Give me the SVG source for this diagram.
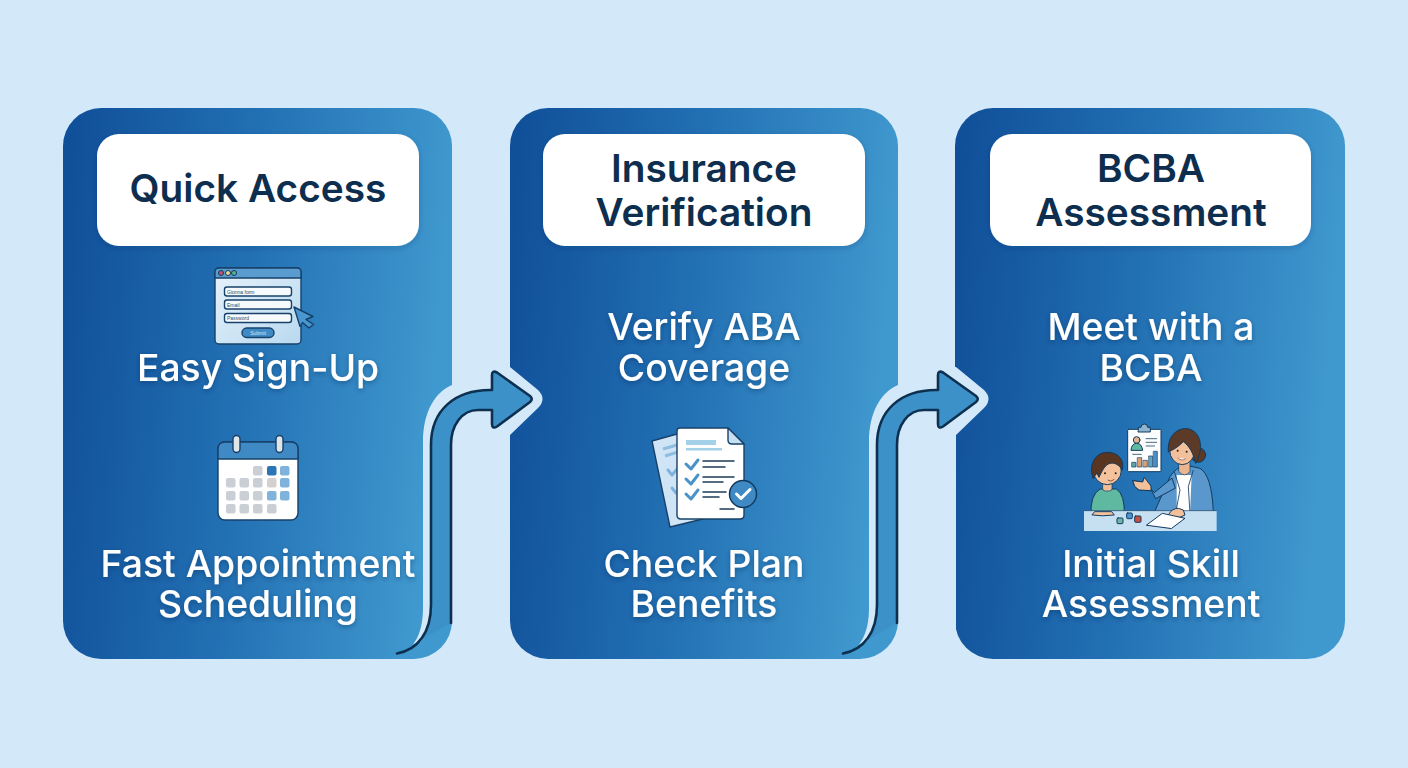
<svg xmlns="http://www.w3.org/2000/svg" xmlns:xlink="http://www.w3.org/1999/xlink" width="1408" height="768" viewBox="0 0 1408 768">
<defs>
<linearGradient id="cardG" x1="0" y1="0" x2="1" y2="0.12"><stop offset="0" stop-color="#0f4e98"/><stop offset="0.5" stop-color="#2270b3"/><stop offset="1" stop-color="#3f98ce"/></linearGradient>
<linearGradient id="formG" x1="0" y1="0" x2="1" y2="1"><stop offset="0" stop-color="#e6f2fb"/><stop offset="1" stop-color="#b9d9ef"/></linearGradient>
<filter id="ts" x="-10%" y="-30%" width="120%" height="170%"><feDropShadow dx="0" dy="2" stdDeviation="2.500" flood-color="#0a2f5c" flood-opacity="0.45"/></filter>
<filter id="bs" x="-10%" y="-10%" width="120%" height="130%"><feDropShadow dx="0" dy="2" stdDeviation="3" flood-color="#0a2f5c" flood-opacity="0.2"/></filter>
<g id="arrow">
<path class="halo" d="M398,653.500C415,650 423,632 423,608L423,442C423,412 435,392 452,385L452,367L510,367L538,390Q547,399 538,408L510,435L510,640L452,640L452,620L431,620C431,635 415,650 398,653.500Z"/>
<path fill="#3c91c9" d="M397,653.500C418,650 431,632 431,605L431,445C431,410 455,390 490,390L492,390L492,375Q492,370 497,372.500L530,396Q533.500,399 530,402L497,426.500Q492,429.500 492,424L492,410L478,410C462,410 451,425 451,445L451,623Z"/>
<path class="arrowline" d="M397,653.500C418,650 431,632 431,605L431,445C431,410 455,390 490,390L492,390L492,375Q492,370 497,372.500L530,396Q533.500,399 530,402L497,426.500Q492,429.500 492,424L492,410L478,410C462,410 451,425 451,445L451,623"/>
</g>
</defs>
<style>
.card{fill:url(#cardG)}
.label{fill:#fff;filter:url(#bs)}
.title{font-family:Inter,"Noto Sans","Liberation Sans",sans-serif;font-weight:600;font-size:38.800px;fill:#0d2e4e;text-anchor:middle}
.body{font-family:Inter,"Noto Sans","Liberation Sans",sans-serif;font-weight:500;font-size:37.300px;fill:#fff;text-anchor:middle;filter:url(#ts)}
.halo{fill:#d3e9f9}
.arrowline{fill:none;stroke:#0e3050;stroke-width:2.600;stroke-linejoin:round;stroke-linecap:round}
.ol{stroke:#17416a;stroke-width:1.400;stroke-linejoin:round}
.tiny{font-family:"Liberation Sans",sans-serif;font-size:5px;fill:#2b4a66}
.g{fill:#c9cfd4}.lb{fill:#7fb3dc}.db{fill:#2a75b5}
.chk{fill:none;stroke:#4a93c8;stroke-width:3;stroke-linecap:round;stroke-linejoin:round}
.ln{stroke:#1e3d58;stroke-width:1.500;stroke-linecap:round}
.sk{stroke:#123a5e;stroke-width:3;stroke-linejoin:round;stroke-linecap:round}
</style>
<rect width="1408" height="768" fill="#d3e9f9"/>

<g id="card-quick-access">
<rect class="card" x="63" y="108" width="389" height="551" rx="38"/>
<rect class="label" x="97" y="134" width="322" height="112" rx="22"/>
<text class="title" x="258" y="202">Quick Access</text>
<g id="icon-form">
<rect x="215" y="268" width="86" height="76" rx="4" fill="url(#formG)" class="ol"/>
<path d="M215,278V272Q215,268 219,268H297Q301,268 301,272V278Z" fill="#5a9bd0" class="ol"/>
<circle cx="221" cy="273" r="2.500" fill="#c0566e" stroke="#123a5e"/><circle cx="228" cy="273" r="2.500" fill="#ecd98a" stroke="#123a5e"/><circle cx="234" cy="273" r="2.500" fill="#55b58c" stroke="#123a5e"/>
<rect x="224.500" y="287" width="67" height="9" rx="2.500" fill="#f6fafd" class="ol"/>
<rect x="224.500" y="300" width="67" height="9" rx="2.500" fill="#f6fafd" class="ol"/>
<rect x="224.500" y="313.500" width="67" height="9" rx="2.500" fill="#f6fafd" class="ol"/>
<text class="tiny" x="227" y="293.500">Gionna form</text>
<text class="tiny" x="227" y="306.500">Email</text>
<text class="tiny" x="227" y="320">Password</text>
<rect x="242" y="328" width="32" height="9.500" rx="4.700" fill="#3f8ac4" class="ol"/>
<text class="tiny" x="258" y="334.500" text-anchor="middle" style="fill:#d5e9f7">Submit</text>
<path d="M294,307L313,316.500L306,319.500L313.500,324.500L309,328L302.500,322.500L300,326.500Z" fill="#4a97d0" class="ol"/>
</g>
<text class="body" x="258" y="381">Easy Sign-Up</text>
<g id="icon-calendar">
<rect x="218" y="442" width="80" height="78" rx="7" fill="#fff" class="ol"/>
<path d="M218,459V449Q218,442 225,442H291Q298,442 298,449V459Z" fill="#3f8ac4" class="ol"/>
<rect x="233" y="435.500" width="7" height="17" rx="3.500" fill="#dfe6ea" class="ol"/>
<rect x="276" y="435.500" width="7" height="17" rx="3.500" fill="#dfe6ea" class="ol"/>
<g>
<rect class="g" x="253" y="466" width="9.500" height="9.500" rx="2"/><rect class="db" x="267" y="466" width="9.500" height="9.500" rx="2"/><rect class="lb" x="280" y="466" width="9.500" height="9.500" rx="2"/>
<rect class="g" x="226" y="478" width="9.500" height="9.500" rx="2"/><rect class="g" x="239.500" y="478" width="9.500" height="9.500" rx="2"/><rect class="g" x="253" y="478" width="9.500" height="9.500" rx="2"/><rect x="267" y="478" width="9.500" height="9.500" rx="2" fill="#d5cfd0"/><rect class="lb" x="280" y="478" width="9.500" height="9.500" rx="2"/>
<rect class="g" x="226" y="491" width="9.500" height="9.500" rx="2"/><rect class="g" x="239.500" y="491" width="9.500" height="9.500" rx="2"/><rect class="g" x="253" y="491" width="9.500" height="9.500" rx="2"/><rect class="lb" x="267" y="491" width="9.500" height="9.500" rx="2"/><rect class="lb" x="280" y="491" width="9.500" height="9.500" rx="2"/>
<rect class="g" x="226" y="504" width="9.500" height="9.500" rx="2"/><rect class="g" x="239.500" y="504" width="9.500" height="9.500" rx="2"/><rect class="g" x="253" y="504" width="9.500" height="9.500" rx="2"/><rect class="g" x="267" y="504" width="9.500" height="9.500" rx="2"/>
</g>
</g>
<text class="body" x="258" y="577">Fast Appointment</text>
<text class="body" x="258" y="617">Scheduling</text>
</g>

<g id="card-insurance-verification">
<rect class="card" x="510" y="108" width="388" height="551" rx="38"/>
<rect class="label" x="543" y="134" width="322" height="112" rx="22"/>
<text class="title" x="704" y="182">Insurance</text>
<text class="title" x="704" y="226">Verification</text>
<text class="body" x="704" y="340">Verify ABA</text>
<text class="body" x="704" y="381">Coverage</text>
<g id="icon-document">
<path d="M652,441L677,434L707,518L670,527Z" fill="#cfe4f4" class="ol"/>
<path d="M663,449L677,445M665,456L678,452" stroke="#8fbfe0" stroke-width="3"/>
<path class="chk" d="M668,470L672,475L678,468M672,488L676,493L682,486" style="stroke:#7fb3dc"/>
<path d="M680,428H728L744,444V515Q744,519 740,519H681Q677,519 677,515V431Q677,428 680,428Z" fill="#fff" class="ol"/>
<path d="M728,428V440Q728,444 732,444H744Z" fill="#c6dff1" class="ol"/>
<rect x="686" y="440" width="30" height="5" fill="#a5d0ea"/><rect x="686" y="448" width="36" height="2.500" fill="#a5d0ea"/>
<path class="chk" d="M686,464L691,469L698,460M686,479L691,484L698,475M686,494L691,499L698,490"/>
<path class="ln" d="M703,461H734M703,467H725M703,477H734M703,482H723M703,492H726M703,497H719M720,509H734"/>
<circle cx="743" cy="494" r="13.500" fill="#3f8ac4" stroke="#123a5e" stroke-width="1.500"/>
<path d="M736.500,494L741,498.500L750,489.500" fill="none" stroke="#fff" stroke-width="3" stroke-linecap="round" stroke-linejoin="round"/>
</g>
<text class="body" x="704" y="577">Check Plan</text>
<text class="body" x="704" y="617">Benefits</text>
</g>

<g id="card-bcba-assessment">
<rect class="card" x="955" y="108" width="390" height="551" rx="38"/>
<rect class="label" x="990" y="134" width="321" height="112" rx="22"/>
<text class="title" x="1151" y="182">BCBA</text>
<text class="title" x="1151" y="226">Assessment</text>
<text class="body" x="1151" y="340">Meet with a</text>
<text class="body" x="1151" y="381">BCBA</text>
<g id="icon-scene" transform="translate(1075,420) scale(0.3333)">
<rect x="158" y="28" width="100" height="127" rx="3" fill="#fbfdff" class="sk"/>
<path d="M190,30V22H198A10,10 0 0 1 218,22H226V36H190Z" fill="#8fb4cf" class="sk"/>
<circle cx="185" cy="60" r="10" fill="#e3b48e" class="sk"/>
<path d="M168,90Q170,70 185,70Q200,70 203,90Z" fill="#5fb8a0" class="sk"/>
<path d="M212,56H246M212,67H246M212,78H240" stroke="#4a6a85" stroke-width="3"/>
<path d="M172,103H200" stroke="#4a6a85" stroke-width="3"/>
<rect x="171" y="127" width="12" height="14" fill="#5fa7a5" class="sk" style="stroke-width:2"/><rect x="188" y="113" width="12" height="28" fill="#d9a272" class="sk" style="stroke-width:2"/><rect x="205" y="121" width="12" height="20" fill="#d9a272" class="sk" style="stroke-width:2"/><rect x="222" y="108" width="11" height="33" fill="#5fa7c5" class="sk" style="stroke-width:2"/><rect x="236" y="94" width="11" height="47" fill="#4c8ec9" class="sk" style="stroke-width:2"/>

<path d="M48,285Q45,225 75,207L125,207Q150,225 148,285Z" fill="#5fb8a0" class="sk"/>
<rect x="83" y="185" width="28" height="28" rx="8" fill="#f0bd96" class="sk" style="stroke-width:2"/>
<circle cx="97" cy="152" r="42" fill="#f4c39d" class="sk"/>
<path d="M54,175C38,125 68,95 100,97C132,99 148,120 142,150C128,128 108,124 94,136C84,145 78,160 72,172L66,160Z" fill="#5a3520" class="sk"/>
<circle cx="90" cy="160" r="3" fill="#2b1c12"/><circle cx="122" cy="160" r="3" fill="#2b1c12"/>
<path d="M98,180Q108,188 118,178" fill="none" stroke="#7c3d2a" stroke-width="2.500"/>

<circle cx="370" cy="105" r="22" fill="#5c3a28" class="sk"/>
<path d="M230,295L285,170Q300,145 330,135L375,145Q410,165 415,275L395,295Z" fill="#5a97cc" class="sk"/>
<path d="M305,165H350L345,285H305Z" fill="#fff"/>
<path d="M298,155L315,210L300,290M355,150L340,200L345,280" fill="none" stroke="#123a5e" stroke-width="2.500"/>
<path d="M312,120H345V155Q328,175 312,155Z" fill="#eab48e" class="sk" style="stroke-width:2"/>
<ellipse cx="322" cy="90" rx="38" ry="44" fill="#f2c09a" class="sk"/>
<path d="M280,95C275,40 320,15 350,30C380,45 385,90 362,130C355,100 345,80 325,65C310,80 295,90 280,95Z" fill="#5c3a28" class="sk"/>
<circle cx="308" cy="92" r="3" fill="#2b1c12"/><circle cx="335" cy="95" r="3" fill="#2b1c12"/>
<path d="M308,113Q320,125 332,116" fill="#fff" stroke="#7c3d2a" stroke-width="2"/>
<path d="M290,175L238,218L222,202L208,172L203,186L174,182L180,200L192,210L230,212L242,236L300,205Z" fill="#5a97cc" class="sk"/>
<path d="M174,182L203,186L208,172L228,198L228,212L192,210L180,200Z" fill="#f2c09a" class="sk"/>

<rect x="27" y="272" width="398" height="61" fill="#c6e0f2"/>
<path d="M27,272H425" stroke="#123a5e" stroke-width="2"/>
<path d="M280,285Q290,265 310,265L325,270L330,285L315,292H290Z" fill="#f2c09a" class="sk"/>
<path d="M52,285Q80,290 118,285L110,275H60Z" fill="#f4c39d" class="sk"/>
<path d="M215,315L262,280L330,295L290,325Z" fill="#fff" class="sk"/>
<rect x="126" y="294" width="18" height="17" rx="3" fill="#6fb5a8" class="sk"/>
<rect x="155" y="279" width="17" height="17" rx="3" fill="#4a97d0" class="sk"/>
<rect x="179" y="288" width="19" height="19" rx="3" fill="#c8503f" class="sk"/>
</g>
<text class="body" x="1151" y="577">Initial Skill</text>
<text class="body" x="1151" y="617">Assessment</text>
</g>

<g id="connectors">
<use xlink:href="#arrow" href="#arrow"/>
<use xlink:href="#arrow" href="#arrow" transform="translate(446,0)"/>
</g>
</svg>
